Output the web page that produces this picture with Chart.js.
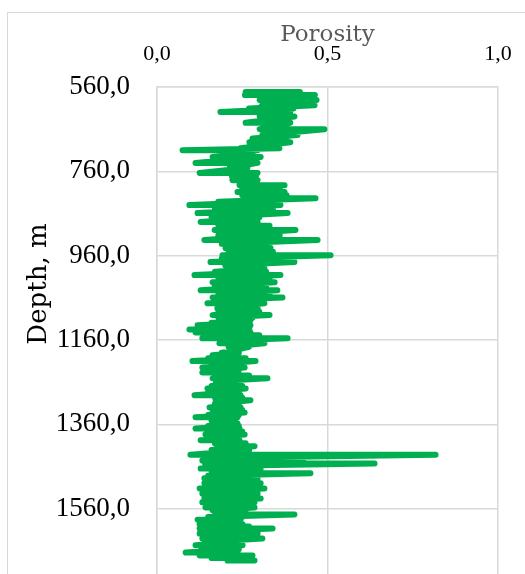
<!DOCTYPE html>
<html>
<head>
<meta charset="utf-8">
<script src="https://cdn.jsdelivr.net/npm/chart.js@4.4.1/dist/chart.umd.min.js"></script>
<style>
  html, body { margin: 0; padding: 0; background: #fff; overflow: hidden; width: 525px; height: 574px; }
  #frame { position: absolute; left: 7px; top: 12px; width: 560px; height: 700px; border: 1px solid #d9d9d9; box-sizing: border-box; }
  #logChart { position: absolute; left: 0; top: 0; }
</style>
</head>
<body>
<div id="frame"></div>
<canvas id="logChart" width="525" height="620"></canvas>
<script>
// log: each depth step swings from porLow to porHigh
const depthM = [
  572, 579, 591, 603, 611, 619, 630, 645, 660, 674, 682, 691, 705, 710, 717, 726,
  740, 752, 764, 773, 781, 793, 801, 809, 817, 824, 832, 840, 850, 859, 869, 880,
  889, 899, 911, 923, 932, 942, 951, 959, 967, 975, 983, 990, 998, 1006, 1014, 1023,
  1032, 1042, 1051, 1059, 1066, 1073, 1085, 1093, 1101, 1107, 1113, 1119, 1125, 1135, 1142, 1149,
  1156, 1162, 1168, 1176, 1184, 1190, 1196, 1203, 1210, 1218, 1225, 1231, 1237, 1244, 1251, 1257,
  1263, 1269, 1275, 1283, 1291, 1297, 1303, 1311, 1320, 1326, 1332, 1338, 1343, 1351, 1358, 1364,
  1370, 1377, 1384, 1391, 1398, 1405, 1412, 1421, 1432, 1440, 1446, 1453, 1459, 1465, 1471, 1476,
  1482, 1488, 1494, 1500, 1506, 1512, 1518, 1524, 1530, 1536, 1541, 1545, 1551, 1557, 1564, 1569,
  1574, 1580, 1586, 1592, 1597, 1602, 1607, 1613, 1619, 1625, 1631, 1639, 1647, 1656, 1664, 1671,
  1677, 1683
];
const porLow = [
  0.260, 0.258, 0.301, 0.308, 0.27, 0.186, 0.301, 0.260, 0.301, 0.309, 0.28, 0.271, 0.245, 0.075, 0.20, 0.163,
  0.113, 0.213, 0.125, 0.22, 0.221, 0.242, 0.25, 0.236, 0.25, 0.260, 0.18, 0.095, 0.17, 0.119, 0.16, 0.128,
  0.18, 0.169, 0.18, 0.139, 0.19, 0.201, 0.21, 0.192, 0.19, 0.157, 0.20, 0.213, 0.17, 0.110, 0.18, 0.163,
  0.17, 0.128, 0.18, 0.163, 0.17, 0.148, 0.177, 0.18, 0.163, 0.18, 0.186, 0.16, 0.119, 0.095, 0.113, 0.17,
  0.133, 0.19, 0.183, 0.21, 0.227, 0.19, 0.163, 0.15, 0.104, 0.16, 0.133, 0.16, 0.133, 0.17, 0.163, 0.18,
  0.172, 0.16, 0.148, 0.15, 0.110, 0.17, 0.172, 0.17, 0.154, 0.17, 0.163, 0.15, 0.113, 0.16, 0.163, 0.15,
  0.113, 0.16, 0.142, 0.15, 0.128, 0.17, 0.177, 0.16, 0.098, 0.15, 0.133, 0.141, 0.15, 0.128, 0.16, 0.186,
  0.15, 0.139, 0.15, 0.139, 0.15, 0.125, 0.15, 0.133, 0.15, 0.139, 0.15, 0.133, 0.16, 0.142, 0.163, 0.17,
  0.192, 0.15, 0.119, 0.15, 0.125, 0.15, 0.125, 0.15, 0.125, 0.15, 0.133, 0.14, 0.113, 0.13, 0.084, 0.125,
  0.16, 0.207
];
const porHigh = [
  0.419, 0.463, 0.468, 0.462, 0.40, 0.391, 0.403, 0.391, 0.491, 0.412, 0.38, 0.391, 0.359, 0.295, 0.28, 0.304,
  0.295, 0.265, 0.295, 0.29, 0.295, 0.374, 0.36, 0.374, 0.38, 0.465, 0.34, 0.362, 0.34, 0.383, 0.30, 0.295,
  0.33, 0.406, 0.36, 0.471, 0.32, 0.333, 0.34, 0.509, 0.34, 0.403, 0.31, 0.315, 0.32, 0.362, 0.33, 0.345,
  0.32, 0.353, 0.33, 0.368, 0.30, 0.315, 0.295, 0.30, 0.330, 0.28, 0.274, 0.26, 0.274, 0.271, 0.274, 0.30,
  0.383, 0.29, 0.315, 0.27, 0.242, 0.24, 0.236, 0.26, 0.289, 0.25, 0.257, 0.24, 0.236, 0.27, 0.324, 0.24,
  0.245, 0.25, 0.260, 0.24, 0.245, 0.25, 0.274, 0.24, 0.245, 0.25, 0.257, 0.24, 0.236, 0.23, 0.236, 0.24,
  0.242, 0.25, 0.257, 0.24, 0.242, 0.26, 0.286, 0.27, 0.817, 0.30, 0.428, 0.638, 0.29, 0.304, 0.30, 0.450,
  0.28, 0.295, 0.29, 0.304, 0.29, 0.315, 0.28, 0.295, 0.28, 0.304, 0.27, 0.286, 0.27, 0.286, 0.257, 0.26,
  0.403, 0.25, 0.245, 0.24, 0.251, 0.27, 0.339, 0.27, 0.295, 0.28, 0.309, 0.25, 0.251, 0.24, 0.236, 0.280,
  0.27, 0.286
];

// axis setup
const porosityRange = [0, 1];
const porosityStep = 0.5;
const depthRange = [560, 1760];
const depthStep = 200;
const xTitle = "Porosity";
const yTitle = "Depth, m";

const commaFmt = (v) => Number(v).toFixed(1).replace(".", ",");

// zigzag: low then high at each depth step
const points = [];
depthM.forEach((d, i) => {
  points.push({ x: porLow[i], y: d });
  points.push({ x: porHigh[i], y: d });
});

// y title drawn by hand so it sits where the original had it
const depthTitle = {
  id: "depthTitle",
  afterDraw(chart) {
    const c = chart.ctx;
    c.save();
    c.translate(46, 284);
    c.rotate(-Math.PI / 2);
    c.font = "26px 'DejaVu Serif'";
    c.fillStyle = "#000";
    c.textAlign = "center";
    c.textBaseline = "alphabetic";
    c.fillText(yTitle, 0, 0);
    c.restore();
  },
};

const ctx = document.getElementById("logChart");

new Chart(ctx, {
  type: "scatter",
  data: {
    datasets: [{
      data: points,
      showLine: true,
      borderColor: "#00B050",
      backgroundColor: "#00B050",
      borderWidth: 6,
      borderCapStyle: "round",
      borderJoinStyle: "round",
      pointRadius: 0,
      tension: 0,
    }],
  },
  options: {
    responsive: false,
    animation: false,
    layout: { padding: { left: 0, top: 0, right: 27, bottom: 27 } },
    plugins: { legend: { display: false }, tooltip: { enabled: false } },
    scales: {
      x: {
        type: "linear",
        position: "top",
        min: porosityRange[0],
        max: porosityRange[1],
        afterFit: (s) => {
          s.height = 87;
          s.paddingLeft = 0;
          s.paddingRight = 0;
        },
        ticks: {
          stepSize: porosityStep,
          callback: commaFmt,
          color: "#000",
          font: { family: "'Liberation Serif'", size: 22 },
          padding: 20,
          maxRotation: 0,
        },
        grid: { color: "#d9d9d9", lineWidth: 1.5, drawTicks: false },
        border: { color: "#d9d9d9", width: 1.5 },
        title: {
          display: true,
          text: xTitle,
          color: "#595959",
          font: { family: "'DejaVu Serif'", size: 23 },
          padding: { top: 21, bottom: 0 },
        },
      },
      y: {
        type: "linear",
        reverse: true,
        min: depthRange[0],
        max: depthRange[1],
        afterFit: (s) => {
          s.width = 157;
          s.paddingTop = 0;
          s.paddingBottom = 0;
        },
        ticks: {
          stepSize: depthStep,
          callback: commaFmt,
          color: "#000",
          font: { family: "'Liberation Serif'", size: 27 },
          padding: 27,
        },
        grid: { color: "#d9d9d9", lineWidth: 1.5, drawTicks: false },
        border: { color: "#d9d9d9", width: 1.5 },
      },
    },
  },
  plugins: [depthTitle],
});
</script>
</body>
</html>
